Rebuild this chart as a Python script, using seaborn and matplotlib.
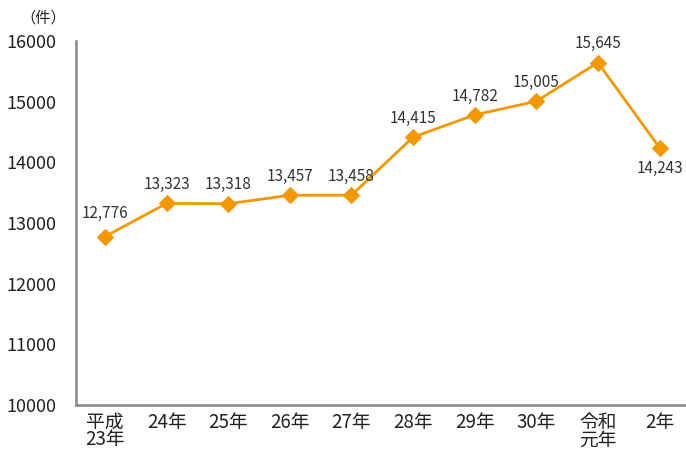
import matplotlib
matplotlib.use('Agg')
import matplotlib.pyplot as plt
import seaborn as sns
import pandas as pd

years = ['平成\n23年', '24年', '25年', '26年', '27年', '28年', '29年', '30年', '令和\n元年', '2年']
cases = [12776, 13323, 13318, 13457, 13458, 14415, 14782, 15005, 15645, 14243]
label_below = [False, False, False, False, False, False, False, False, False, True]

sns.set_style('white')
plt.rcParams['font.family'] = ['Noto Sans CJK JP', 'DejaVu Sans']

df = pd.DataFrame({'x': range(len(years)), 'cases': cases})

fig = plt.figure(figsize=(6.86, 4.5), dpi=100)
ax = fig.add_axes([0.1108, 0.1, 0.8892, 0.8089])

orange = '#f39800'
sns.lineplot(data=df, x='x', y='cases', ax=ax, color=orange, linewidth=2,
             marker='D', markersize=8, markeredgecolor=orange)

# label offsets in points (first one sits a bit higher in the original)
for i, v in enumerate(cases):
    if label_below[i]:
        dy = -15
    elif i == 0:
        dy = 17
    else:
        dy = 13.5
    ax.annotate(f'{v:,}', (i, v), xytext=(0, dy), textcoords='offset points',
                ha='center', va='center', fontsize=11, color='#333333')

ax.set_xlim(-0.47, 9.43)
ax.set_ylim(10000, 16000)
ax.set_yticks(range(10000, 16001, 1000))
ax.set_xticks(range(len(years)))
ax.set_xticklabels(years, fontsize=13.5, color='#222222', linespacing=0.78, va='top')
ax.tick_params(axis='y', direction='in', length=5, width=1.5, color='#888888',
               labelsize=13, pad=14, labelcolor='#222222')
ax.tick_params(axis='x', length=0, pad=5)
ax.set_xlabel('')
ax.set_ylabel('')

for s in ['top', 'right']:
    ax.spines[s].set_visible(False)
for s in ['left', 'bottom']:
    ax.spines[s].set_color('#888888')
    ax.spines[s].set_linewidth(1.8)

fig.text(43 / 686, 1 - 18 / 450, '（件）', ha='center', va='center', fontsize=11, color='#222222')

fig.savefig('out.png', dpi=100)
